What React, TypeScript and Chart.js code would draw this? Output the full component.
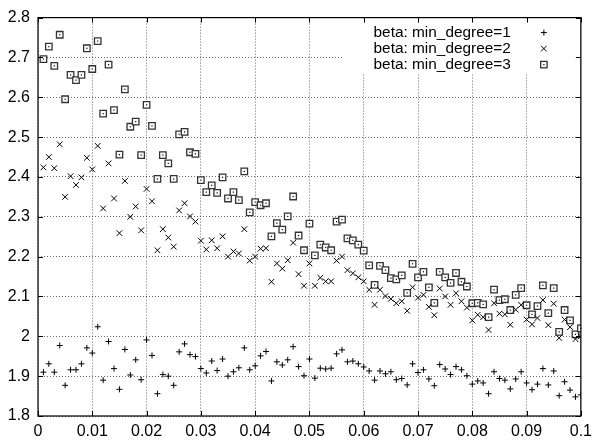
import React, { useEffect, useRef } from "react";
import { Chart, registerables } from "chart.js";

Chart.register(...registerables);

// ---- data ----
const xValues = [
  0.001, 0.002, 0.003, 0.004, 0.005, 0.006, 0.007, 0.008, 0.009, 0.01,
  0.011, 0.012, 0.013, 0.014, 0.015, 0.016, 0.017, 0.018, 0.019, 0.02,
  0.021, 0.022, 0.023, 0.024, 0.025, 0.026, 0.027, 0.028, 0.029, 0.03,
  0.031, 0.032, 0.033, 0.034, 0.035, 0.036, 0.037, 0.038, 0.039, 0.04,
  0.041, 0.042, 0.043, 0.044, 0.045, 0.046, 0.047, 0.048, 0.049, 0.05,
  0.051, 0.052, 0.053, 0.054, 0.055, 0.056, 0.057, 0.058, 0.059, 0.06,
  0.061, 0.062, 0.063, 0.064, 0.065, 0.066, 0.067, 0.068, 0.069, 0.07,
  0.071, 0.072, 0.073, 0.074, 0.075, 0.076, 0.077, 0.078, 0.079, 0.08,
  0.081, 0.082, 0.083, 0.084, 0.085, 0.086, 0.087, 0.088, 0.089, 0.09,
  0.091, 0.092, 0.093, 0.094, 0.095, 0.096, 0.097, 0.098, 0.099, 0.1,
];

const minDegree1 = [
  1.910, 1.931, 1.910, 1.977, 1.877, 1.916, 1.916, 1.931, 1.971, 1.958,
  2.024, 1.890, 1.987, 1.919, 1.867, 1.967, 1.903, 1.941, 1.891, 1.991,
  1.952, 1.856, 1.904, 1.900, 1.877, 1.961, 1.981, 1.954, 1.949, 1.919,
  1.908, 1.938, 1.914, 1.943, 1.900, 1.911, 1.921, 1.971, 1.916, 1.926,
  1.951, 1.962, 1.888, 1.936, 1.928, 1.941, 1.974, 1.924, 1.901, 1.943,
  1.895, 1.920, 1.918, 1.920, 1.956, 1.966, 1.936, 1.938, 1.931, 1.923,
  1.913, 1.890, 1.913, 1.906, 1.911, 1.891, 1.894, 1.878, 1.931, 1.909,
  1.916, 1.893, 1.876, 1.929, 1.918, 1.904, 1.924, 1.916, 1.901, 1.880,
  1.888, 1.883, 1.856, 1.911, 1.894, 1.890, 1.868, 1.893, 1.911, 1.883,
  1.866, 1.880, 1.919, 1.878, 1.913, 1.851, 1.886, 1.865, 1.848, 1.853,
];

const minDegree2 = [
  2.424, 2.450, 2.422, 2.482, 2.350, 2.402, 2.380, 2.399, 2.448, 2.419,
  2.478, 2.321, 2.434, 2.346, 2.259, 2.390, 2.300, 2.326, 2.266, 2.370,
  2.339, 2.216, 2.269, 2.248, 2.225, 2.316, 2.334, 2.301, 2.288, 2.240,
  2.218, 2.241, 2.221, 2.251, 2.200, 2.213, 2.208, 2.269, 2.190, 2.200,
  2.220, 2.221, 2.137, 2.183, 2.170, 2.191, 2.235, 2.156, 2.127, 2.183,
  2.127, 2.147, 2.138, 2.138, 2.190, 2.200, 2.166, 2.158, 2.148, 2.138,
  2.117, 2.079, 2.117, 2.101, 2.094, 2.083, 2.088, 2.064, 2.123, 2.097,
  2.104, 2.074, 2.053, 2.120, 2.100, 2.079, 2.108, 2.088, 2.072, 2.040,
  2.054, 2.048, 2.016, 2.083, 2.057, 2.055, 2.029, 2.067, 2.079, 2.042,
  2.030, 2.046, 2.091, 2.028, 2.082, 1.996, 2.042, 2.023, 1.993, 2.000,
];

const minDegree3 = [
  2.696, 2.727, 2.679, 2.757, 2.595, 2.656, 2.643, 2.656, 2.723, 2.671,
  2.741, 2.559, 2.682, 2.568, 2.456, 2.620, 2.526, 2.539, 2.455, 2.581,
  2.528, 2.395, 2.455, 2.434, 2.395, 2.507, 2.513, 2.462, 2.458, 2.392,
  2.362, 2.379, 2.360, 2.399, 2.346, 2.362, 2.342, 2.414, 2.311, 2.337,
  2.329, 2.334, 2.251, 2.284, 2.268, 2.301, 2.351, 2.253, 2.216, 2.283,
  2.203, 2.230, 2.223, 2.216, 2.288, 2.293, 2.246, 2.241, 2.230, 2.215,
  2.178, 2.129, 2.177, 2.166, 2.146, 2.143, 2.153, 2.109, 2.182, 2.148,
  2.162, 2.123, 2.084, 2.162, 2.148, 2.134, 2.159, 2.137, 2.125, 2.083,
  2.084, 2.080, 2.048, 2.117, 2.091, 2.093, 2.066, 2.104, 2.121, 2.078,
  2.055, 2.076, 2.128, 2.058, 2.121, 2.011, 2.066, 2.040, 2.005, 2.020,
];

const seriesLabels = ["beta: min_degree=1", "beta: min_degree=2", "beta: min_degree=3"];
const xTickLabels = ["0", "0.01", "0.02", "0.03", "0.04", "0.05", "0.06", "0.07", "0.08", "0.09", "0.1"];
const yTickLabels = ["1.8", "1.9", "2", "2.1", "2.2", "2.3", "2.4", "2.5", "2.6", "2.7", "2.8"];

const FONT = '"Liberation Sans", Arial, Helvetica, sans-serif';
const BOX_COLOR = "#333";

function toPoints(vals: number[]) {
  return vals.map((v, i) => ({ x: xValues[i], y: v }));
}

export default function App() {
  const ref = useRef<HTMLCanvasElement | null>(null);

  useEffect(() => {
    if (!ref.current) return;

    const drawBox = (ctx: CanvasRenderingContext2D, x: number, y: number) => {
      ctx.strokeStyle = BOX_COLOR;
      ctx.lineWidth = 1.3;
      ctx.fillStyle = "#fff";
      ctx.fillRect(x - 3.2, y - 3.2, 6.4, 6.4);
      ctx.strokeRect(x - 3.2, y - 3.2, 6.4, 6.4);
      ctx.fillStyle = "#000";
      ctx.fillRect(x - 0.6, y - 0.6, 1.2, 1.2);
    };

    const framePlugin = {
      id: "gnuframe",
      beforeDatasetsDraw(chart: any) {
        const { ctx, chartArea } = chart;
        ctx.save();
        ctx.fillStyle = "#fff";
        ctx.fillRect(343, chartArea.top + 1, chartArea.right - 343 - 1, 55);
        ctx.restore();
      },
      afterDatasetsDraw(chart: any) {
        // center dots of box markers (positions from the library's scales)
        const meta = chart.getDatasetMeta(2);
        const ctx = chart.ctx;
        ctx.save();
        ctx.fillStyle = "#000";
        meta.data.forEach((el: any) => {
          ctx.fillRect(el.x - 0.6, el.y - 0.6, 1.2, 1.2);
        });
        ctx.restore();
      },
      afterDraw(chart: any) {
        const { ctx, chartArea } = chart;
        const { left, right, top, bottom } = chartArea;
        const xs = chart.scales.x;
        const ys = chart.scales.y;
        ctx.save();
        ctx.strokeStyle = "#000";
        ctx.lineWidth = 1;
        ctx.beginPath();
        const tl = 5;
        xs.ticks.forEach((t: any) => {
          const px = Math.round(xs.getPixelForValue(t.value)) + 0.5;
          ctx.moveTo(px, bottom);
          ctx.lineTo(px, bottom - tl);
          ctx.moveTo(px, top);
          ctx.lineTo(px, top + tl);
        });
        ys.ticks.forEach((t: any) => {
          const py = Math.round(ys.getPixelForValue(t.value)) + 0.5;
          ctx.moveTo(left, py);
          ctx.lineTo(left + tl, py);
          ctx.moveTo(right, py);
          ctx.lineTo(right - tl, py);
        });
        ctx.stroke();
        ctx.lineWidth = 1.2;
        ctx.strokeRect(left, top, right - left, bottom - top);

        // legend
        ctx.font = `15.4px ${FONT}`;
        ctx.textAlign = "right";
        ctx.textBaseline = "middle";
        const tx = right - 70;
        const sx = right - 37;
        seriesLabels.forEach((lab, k) => {
          const y = top + 15 + 16 * k;
          ctx.fillStyle = "#000";
          ctx.fillText(lab, tx, y);
          ctx.strokeStyle = "#000";
          ctx.lineWidth = 1;
          ctx.beginPath();
          if (k === 0) {
            ctx.moveTo(sx - 3, y);
            ctx.lineTo(sx + 3, y);
            ctx.moveTo(sx, y - 3);
            ctx.lineTo(sx, y + 3);
            ctx.stroke();
          } else if (k === 1) {
            ctx.moveTo(sx - 2.8, y - 2.8);
            ctx.lineTo(sx + 2.8, y + 2.8);
            ctx.moveTo(sx + 2.8, y - 2.8);
            ctx.lineTo(sx - 2.8, y + 2.8);
            ctx.stroke();
          } else {
            drawBox(ctx, sx, y);
          }
        });
        ctx.restore();
      },
    };

    const chart = new Chart(ref.current, {
      type: "scatter",
      data: {
        datasets: [
          {
            label: seriesLabels[0],
            data: toPoints(minDegree1),
            pointStyle: "cross",
            pointRadius: 3,
            borderColor: "#000",
            backgroundColor: "#000",
            borderWidth: 1,
          },
          {
            label: seriesLabels[1],
            data: toPoints(minDegree2),
            pointStyle: "crossRot",
            pointRadius: 4,
            borderColor: "#000",
            backgroundColor: "#000",
            borderWidth: 1,
          },
          {
            label: seriesLabels[2],
            data: toPoints(minDegree3),
            pointStyle: "rect",
            pointRadius: 4.6,
            borderColor: BOX_COLOR,
            backgroundColor: "#fff",
            borderWidth: 1.3,
          },
        ],
      },
      options: {
        responsive: false,
        animation: false,
        events: [],
        layout: { padding: { top: 14, right: 11, left: 0, bottom: 0 } },
        plugins: { legend: { display: false }, tooltip: { enabled: false } },
        scales: {
          x: {
            type: "linear",
            min: 0,
            max: 0.1,
            ticks: {
              stepSize: 0.01,
              color: "#000",
              font: { family: FONT, size: 16 },
              padding: 6,
              maxRotation: 0,
              autoSkip: false,
              callback: (_v: any, i: number) => xTickLabels[i],
            },
            grid: {
              color: "rgba(0,0,0,0.6)",
              lineWidth: 1,
              drawTicks: false,
            },
            border: { display: false, dash: [1, 2] },
            afterFit: (s: any) => {
              s.height = 28;
            },
          },
          y: {
            type: "linear",
            min: 1.8,
            max: 2.8,
            ticks: {
              stepSize: 0.1,
              color: "#000",
              font: { family: FONT, size: 16 },
              padding: 8,
              autoSkip: false,
              callback: (_v: any, i: number) => yTickLabels[i],
            },
            grid: {
              color: "rgba(0,0,0,0.6)",
              lineWidth: 1,
              drawTicks: false,
            },
            border: { display: false, dash: [1, 2] },
            afterFit: (s: any) => {
              s.width = 38;
            },
          },
        },
      },
      plugins: [framePlugin],
    } as any);

    return () => chart.destroy();
  }, []);

  return (
    <div style={{ position: "absolute", left: 0, top: 0, width: 598, height: 444, background: "#fff" }}>
      <canvas ref={ref} width={598} height={444} style={{ display: "block" }} />
    </div>
  );
}
